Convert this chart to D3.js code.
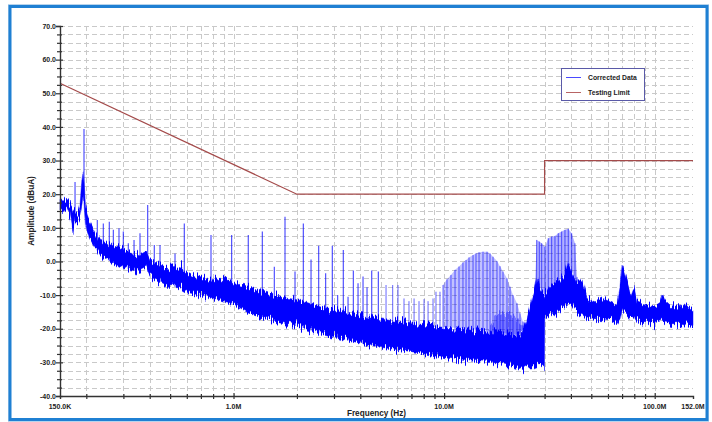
<!DOCTYPE html>
<html>
<head>
<meta charset="utf-8">
<script src="https://cdn.jsdelivr.net/npm/d3@7"></script>
<style>
  html, body { margin: 0; padding: 0; background: #fff; }
  svg { display: block; font-family: "Liberation Sans", Arial, sans-serif; }
</style>
</head>
<body>
<div id="chart"></div>
<script>
// frequencies in MHz, levels in dBuA
const bandFreq = [0.150, 0.155, 0.162, 0.1674, 0.1729, 0.1768, 0.1826, 0.1866, 0.1908, 0.1929, 0.195, 0.1982, 0.2018, 0.2083, 0.220, 0.2323, 0.2592, 0.2891, 0.3225, 0.3597, 0.3841, 0.4013, 0.4477, 0.4994, 0.5569, 0.6214, 0.6935, 0.773, 0.8627, 0.9623, 1.0735, 1.1976, 1.411, 1.663, 2.069, 2.575, 3.204, 3.987, 4.963, 6.172, 7.682, 9.561, 11.90, 14.80, 18.43, 21.71, 23.44, 24.76, 25.58, 26.72, 27.62, 28.54, 29.65, 29.95, 30.05, 30.13, 31.84, 33.61, 35.51, 37.51, 38.87, 40.48, 42.75, 45.16, 47.70, 52.05, 56.81, 61.38, 66.23, 68.46, 69.98, 72.31, 74.71, 77.19, 79.77, 82.44, 90.0, 100.4, 106.0, 108.9, 111.9, 120.9, 131.9, 139.3, 152];
const bandHigh = [18.5, 18, 18.5, 17.5, 15, 14.5, 14.5, 16.5, 25, 27, 24, 16, 14, 11.5, 8.5, 6.4, 5, 4, 2.5, 2, 3, 0.5, -1, -2, -1.5, -3.5, -4.5, -5.5, -5, -5, -7.5, -8, -9, -10.6, -11.5, -13.5, -14.4, -16, -17, -18, -18.9, -19.5, -19.8, -20.4, -21, -21.9, -21, -17, -13.5, -9, -4.6, -8, -9.5, -9.5, -9.5, -10, -7.5, -6.5, -5.5, -3.5, -0.2, -3, -6, -6, -11, -12, -11, -12, -13, -8, -1.1, -4, -7, -10, -7.6, -12, -13, -13.5, -12.5, -10, -11.5, -13.5, -13, -13, -14];
const bandLow = [15, 14.5, 15.5, 14, 8.5, 12, 12, 13, 17, 20, 18, 11, 8.5, 6.5, 4.3, 2, 0, -1.5, -2.5, -3, -2, -4.5, -6, -7.5, -7.5, -9.4, -10, -10.6, -11.5, -12.3, -13.5, -15.3, -16.8, -18.3, -19.5, -21.3, -22.8, -24.3, -25.5, -26.3, -27.2, -28.4, -29.3, -29.9, -30.2, -31.4, -32.5, -31.5, -31.4, -31.4, -31, -31, -31, -31, -16.5, -16.5, -16, -15.5, -14.5, -13.5, -12.5, -13, -15, -15.5, -16.5, -17, -17, -17.5, -18.5, -17, -14, -15, -16, -17, -16.5, -18, -18.5, -18.5, -18, -17.5, -18, -18.5, -18.5, -19, -19];

// isolated emission peaks
const spikeFreq = [0.1768, 0.195, 0.2255, 0.2408, 0.2571, 0.2687, 0.2859, 0.2997, 0.3165, 0.337, 0.3597, 0.3913, 0.4205, 0.4477, 0.5275, 0.5838, 0.7818, 0.980, 1.175, 1.370, 1.562, 1.756, 1.959, 2.145, 2.334, 2.538, 2.739, 2.945, 3.123, 3.321, 3.498, 3.706, 3.902, 4.121, 4.305, 4.532, 4.871];
const spikePeak = [23.6, 39.4, 12.3, 11.3, 11.8, 9.4, 9.9, 8.9, 5.4, 6.4, 8.4, 16.8, 4.9, 4.9, 2.4, 11.3, 7.9, 7.9, 7.9, 8.9, -1.6, 13.3, -3.0, 11.3, 0.6, 4.7, -3.5, 4.7, -10, 3.4, -10.5, -2.7, -6.5, -4.5, -7.7, -2.7, -3.0];

// harmonic comb 5 - 25 MHz
const combFreq = [5.30, 5.70, 6.04, 6.45, 6.81, 7.20, 7.60, 8.03, 8.39, 8.86, 9.15, 9.56, 9.88, 10.32, 10.78, 11.27, 11.77, 12.29, 12.71, 13.13, 13.72, 14.17, 14.65, 15.30, 15.99, 16.52, 17.07, 17.83, 18.43, 19.04, 19.89, 20.56, 21.24, 22.19, 22.93, 23.70, 24.76];
const combPeak = [-7.0, -7.0, -7.0, -11.0, -11.8, -11.0, -11.8, -11.2, -11.8, -11.0, -9.0, -9.0, -7.0, -5.3, -4.0, -2.5, -1.5, -0.3, 0.4, 1.2, 1.9, 2.4, 2.7, 2.9, 2.9, 2.4, 1.4, 0.1, -1.4, -3.0, -5.0, -7.5, -10.0, -12.4, -15.4, -17.9, -20.4];

// secondary hump under the comb
const humpFreq = [16.2, 17.8, 19.5, 21.0, 22.4, 23.8, 24.76];
const humpHigh = [-19.5, -16, -15, -15.5, -17, -19, -20.5];

// comb around 30 - 44 MHz
const comb2Freq = [27.0, 27.52, 28.31, 29.06, 30.13, 31.23, 32.42, 33.61, 34.84, 36.16, 37.49, 38.87, 40.34, 41.83, 42.75, 44.18];
const comb2Peak = [-8, 6.4, 5.9, 5.4, 4.4, 6.9, 7.4, 7.6, 8.4, 8.9, 9.4, 9.7, 8.4, 5.4, -4.6, -7];

const limitFreq = [0.15, 2, 30, 30, 152];
const limitLevel = [53, 20, 20, 30, 30];

const yTicks = d3.range(-40, 70.1, 2.5);
const xTickFreq = [0.15, 1, 10, 100, 152];
const xTickLabels = ['150.0K', '1.0M', '10.0M', '100.0M', '152.0M'];

const width = 712, height = 422;
const plotLeft = 60, plotRight = 693, plotTop = 26, plotBottom = 396;

const svg = d3.select('#chart').append('svg')
  .attr('width', width)
  .attr('height', height);

// noisy edge for the measured trace
const fuzz = svg.append('defs').append('filter')
  .attr('id', 'fuzz')
  .attr('x', '-2%').attr('y', '-20%').attr('width', '104%').attr('height', '140%');
fuzz.append('feTurbulence')
  .attr('type', 'fractalNoise').attr('baseFrequency', '0.75 0.02')
  .attr('numOctaves', 2).attr('seed', 7).attr('result', 'noise');
fuzz.append('feColorMatrix')
  .attr('in', 'noise').attr('type', 'matrix')
  .attr('values', '0 0 0 0 0.5  0 1 0 0 0  0 0 0 0 0  0 0 0 0 1')
  .attr('result', 'map');
fuzz.append('feDisplacementMap')
  .attr('in', 'SourceGraphic').attr('in2', 'map')
  .attr('scale', 18).attr('xChannelSelector', 'R').attr('yChannelSelector', 'G');

svg.append('rect').attr('width', width).attr('height', height).attr('fill', '#fff');

// outer frame
svg.append('rect')
  .attr('x', 8.5).attr('y', 4.5).attr('width', 700).attr('height', 417)
  .attr('fill', 'none').attr('stroke', '#b8d4ec').attr('stroke-width', 1);
svg.append('rect')
  .attr('x', 10).attr('y', 6.5).attr('width', 697).attr('height', 413)
  .attr('fill', 'none').attr('stroke', '#1f80d3').attr('stroke-width', 3);

const x = d3.scaleLog().domain([0.15, 152]).range([plotLeft, plotRight]);
const y = d3.scaleLinear().domain([-40, 70]).range([plotBottom, plotTop]);

const bandHighAt = d3.scaleLog().domain(bandFreq).range(bandHigh);
const bandLowAt = d3.scaleLog().domain(bandFreq).range(bandLow);

// grid
const grid = svg.append('g').attr('stroke', '#c9c9c9').attr('stroke-width', 1).attr('stroke-dasharray', '5,3');
grid.selectAll('.vg').data(x.ticks()).enter().append('line')
  .attr('x1', d => Math.round(x(d)) + 0.5).attr('x2', d => Math.round(x(d)) + 0.5)
  .attr('y1', plotTop).attr('y2', plotBottom);
grid.selectAll('.hg').data(yTicks.filter(d => d > -40)).enter().append('line')
  .attr('x1', plotLeft).attr('x2', plotRight)
  .attr('y1', d => Math.round(y(d)) + 0.5).attr('y2', d => Math.round(y(d)) + 0.5);

const plot = svg.append('g');

// light comb hulls
const combArea = d3.area()
  .x(d => x(d.f))
  .y0(d => y(bandHighAt(d.f)))
  .y1(d => y(d.v));

const combData = combFreq.map((f, i) => ({ f: f, v: combPeak[i] }));
const comb2Data = comb2Freq.map((f, i) => ({ f: f, v: comb2Peak[i] }));

plot.append('path')
  .datum(combData.filter(d => d.f >= 9.8))
  .attr('d', combArea)
  .attr('fill', '#0000ff').attr('fill-opacity', 0.24);
plot.append('path')
  .datum(comb2Data)
  .attr('d', combArea)
  .attr('fill', '#0000ff').attr('fill-opacity', 0.3);
plot.append('path')
  .datum(humpFreq.map((f, i) => ({ f: f, v: humpHigh[i] })))
  .attr('d', combArea)
  .attr('fill', '#0000ff').attr('fill-opacity', 0.4)
  .attr('filter', 'url(#fuzz)');

plot.selectAll('.comb').data(combData.concat(comb2Data)).enter().append('line')
  .attr('x1', d => x(d.f)).attr('x2', d => x(d.f))
  .attr('y1', d => y(bandLowAt(d.f) + 4)).attr('y2', d => y(d.v))
  .attr('stroke', '#0000ff').attr('stroke-opacity', 0.6).attr('stroke-width', 1);

// main noise band
const band = bandFreq.map((f, i) => ({ f: f, hi: bandHigh[i], lo: bandLow[i] }));
plot.append('path')
  .datum(band)
  .attr('d', d3.area().x(d => x(d.f)).y0(d => y(d.lo)).y1(d => y(d.hi)))
  .attr('fill', '#0000ff')
  .attr('stroke', '#0000ff').attr('stroke-opacity', 0.45).attr('stroke-width', 1)
  .attr('filter', 'url(#fuzz)');

plot.selectAll('.spike').data(spikeFreq).enter().append('line')
  .attr('x1', d => x(d)).attr('x2', d => x(d))
  .attr('y1', d => y(bandLowAt(d)))
  .attr('y2', (d, i) => y(spikePeak[i]))
  .attr('stroke', '#0000ff').attr('stroke-opacity', 0.75).attr('stroke-width', 1.1);

// limit line
svg.append('path')
  .datum(limitFreq.map((f, i) => [f, limitLevel[i]]))
  .attr('d', d3.line().x(d => x(d[0])).y(d => y(d[1])))
  .attr('fill', 'none').attr('stroke', '#a44a4a').attr('stroke-width', 1.2);

// axes
const yAxis = svg.append('g')
  .attr('transform', `translate(${plotLeft},0)`)
  .call(d3.axisLeft(y).tickValues(yTicks).tickSize(4)
    .tickFormat(d => d % 10 === 0 ? d.toFixed(1) : ''));
yAxis.select('.domain').attr('stroke', '#333').attr('stroke-width', 1.4);
yAxis.selectAll('.tick line')
  .attr('x1', d => d % 10 === 0 ? 3 : 2)
  .attr('x2', d => d % 10 === 0 ? -4 : -3)
  .attr('stroke', '#333').attr('stroke-width', 1.2);
yAxis.selectAll('.tick text')
  .attr('x', -4)
  .attr('font-size', 7).attr('font-weight', 'bold').attr('fill', '#222')
  .attr('font-family', '"Liberation Sans", Arial, sans-serif');

const xAxis = svg.append('g')
  .attr('transform', `translate(0,${plotBottom})`)
  .call(d3.axisBottom(x).tickValues(x.ticks()).tickSize(3).tickFormat(''));
xAxis.select('.domain').attr('stroke', '#333').attr('stroke-width', 1.4);
xAxis.selectAll('.tick line')
  .attr('y1', d => [1, 10, 100].includes(d) ? -3 : -2)
  .attr('y2', 3)
  .attr('stroke', '#333').attr('stroke-width', 1.2);

svg.append('g').selectAll('text').data(xTickFreq).enter().append('text')
  .attr('x', d => x(d))
  .attr('y', 409)
  .attr('text-anchor', 'middle')
  .attr('font-size', 7).attr('font-weight', 'bold').attr('fill', '#222')
  .text((d, i) => xTickLabels[i]);

svg.append('text')
  .attr('x', (plotLeft + plotRight) / 2).attr('y', 416)
  .attr('text-anchor', 'middle')
  .attr('font-size', 8.2).attr('font-weight', 'bold').attr('fill', '#222')
  .text('Frequency (Hz)');

svg.append('text')
  .attr('transform', `translate(34,${(plotTop + plotBottom) / 2}) rotate(-90)`)
  .attr('text-anchor', 'middle')
  .attr('font-size', 8.2).attr('font-weight', 'bold').attr('fill', '#222')
  .text('Amplitude (dBuA)');

// legend
const legend = svg.append('g').attr('transform', 'translate(561,68)');
legend.append('rect')
  .attr('x', 0.5).attr('y', 0.5).attr('width', 83).attr('height', 32)
  .attr('fill', '#fff').attr('stroke', '#5a5aa8').attr('stroke-width', 1);
const legendItems = [['Corrected Data', '#4a4aff'], ['Testing Limit', '#b86464']];
legendItems.forEach((item, i) => {
  legend.append('line')
    .attr('x1', 5).attr('x2', 20)
    .attr('y1', 9.5 + i * 15).attr('y2', 9.5 + i * 15)
    .attr('stroke', item[1]).attr('stroke-width', 1);
  legend.append('text')
    .attr('x', 27).attr('y', 11.5 + i * 15)
    .attr('font-size', 6.8).attr('font-weight', 'bold').attr('fill', '#222')
    .text(item[0]);
});
</script>
</body>
</html>
